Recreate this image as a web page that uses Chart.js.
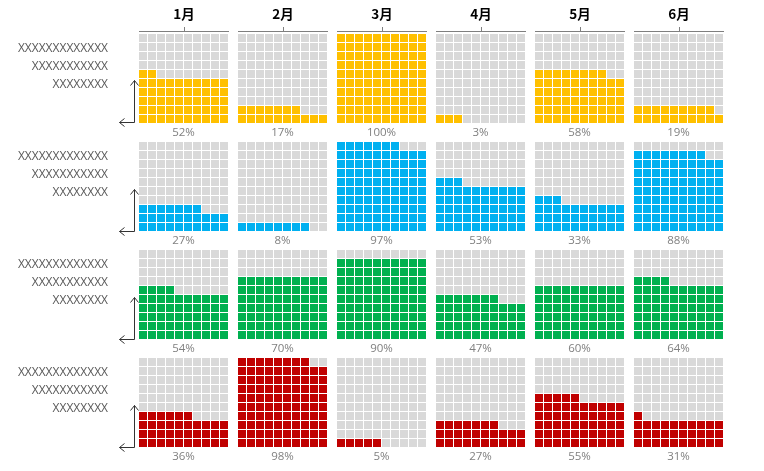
<!DOCTYPE html>
<html>
<head>
<meta charset="utf-8">
<script src="https://cdn.jsdelivr.net/npm/chart.js@4.4.0/dist/chart.umd.min.js"></script>
<style>
  html, body { margin: 0; padding: 0; background: #ffffff; }
  #wrap { width: 764px; height: 471px; }
</style>
</head>
<body>
<div id="wrap"><canvas id="c" width="764" height="471"></canvas></div>
<script>
// ---- data ----
const months = ['1月', '2月', '3月', '4月', '5月', '6月'];
const rowLabels = ['XXXXXXXXXXXXX', 'XXXXXXXXXXX', 'XXXXXXXX'];
const seriesYellow = [52, 17, 100, 3, 58, 19];
const seriesBlue   = [27, 8, 97, 53, 33, 88];
const seriesGreen  = [54, 70, 90, 47, 60, 64];
const seriesRed    = [36, 98, 5, 27, 55, 31];
const seriesList = [seriesYellow, seriesBlue, seriesGreen, seriesRed];
const seriesColors = ['#FFC000', '#00B0F0', '#00B050', '#C00000'];
const emptyColor = '#D9D9D9';

// ---- layout in cell units ----
const GRID = 10;      // 10 x 10 waffle
const COL_STEP = 11;  // grid + 1 cell gap
const ROW_STEP = 12;  // grid + 2 cells gap
const X_MAX = months.length * COL_STEP - 1;
const Y_MAX = seriesList.length * ROW_STEP - 2;

function gridBottom(r) { return Y_MAX - r * ROW_STEP - GRID; }

const emptyPts = [];
const filledSets = seriesList.map((vals, r) => {
  const pts = [];
  vals.forEach((v, m) => {
    for (let k = 0; k < 100; k++) {
      const row = Math.floor(k / GRID), col = k % GRID;
      const p = { x: m * COL_STEP + col + 0.5, y: gridBottom(r) + row + 0.5 };
      if (k < v) pts.push(p); else emptyPts.push(p);
    }
  });
  return pts;
});

const SIDE = 8;
const R = SIDE / (2 * Math.SQRT1_2);

const datasets = [{ data: emptyPts, backgroundColor: emptyColor }]
  .concat(filledSets.map((pts, i) => ({ data: pts, backgroundColor: seriesColors[i] })))
  .map(d => Object.assign(d, {
    pointStyle: 'rect', pointRadius: R, pointHoverRadius: R,
    borderWidth: 0, pointBorderWidth: 0
  }));

const decor = {
  id: 'decor',
  afterDraw(chart) {
    const ctx = chart.ctx;
    const xs = chart.scales.x, ys = chart.scales.y;
    ctx.save();
    // month headers
    months.forEach((m, j) => {
      const x0 = Math.round(xs.getPixelForValue(j * COL_STEP));
      const x1 = Math.round(xs.getPixelForValue(j * COL_STEP + GRID));
      const xc = Math.round(xs.getPixelForValue(j * COL_STEP + GRID / 2));
      const yTop = Math.round(ys.getPixelForValue(Y_MAX));
      ctx.strokeStyle = '#7f7f7f';
      ctx.lineWidth = 1;
      ctx.beginPath();
      ctx.moveTo(x0, yTop - 2.5); ctx.lineTo(x1, yTop - 2.5);
      ctx.moveTo(xc + 0.5, yTop - 2.5); ctx.lineTo(xc + 0.5, yTop - 7);
      ctx.stroke();
      ctx.fillStyle = '#000000';
      ctx.font = 'bold 13.5px "Noto Sans CJK SC", sans-serif';
      ctx.textAlign = 'center';
      ctx.textBaseline = 'middle';
      ctx.fillText(m, xc, 14);
    });
    // per row
    seriesList.forEach((vals, r) => {
      const yb = ys.getPixelForValue(gridBottom(r));
      const yt = ys.getPixelForValue(gridBottom(r) + GRID);
      // percent labels
      vals.forEach((v, j) => {
        const xc = xs.getPixelForValue(j * COL_STEP + GRID / 2);
        ctx.fillStyle = '#808080';
        ctx.font = '11.5px "Open Sans", sans-serif';
        ctx.textAlign = 'center';
        ctx.textBaseline = 'middle';
        ctx.fillText(v + '%', xc, yb + 9);
      });
      // row labels
      ctx.fillStyle = '#595959';
      ctx.font = '12px "Open Sans", sans-serif';
      ctx.textAlign = 'right';
      ctx.textBaseline = 'middle';
      rowLabels.forEach((t, i) => ctx.fillText(t, 108, yt + 15 + i * 18));
      // axis arrows
      const ax = Math.round(xs.getPixelForValue(0)) - 5 + 0.5;
      const ay = Math.round(yb) - 0.5;
      ctx.strokeStyle = '#333333';
      ctx.lineWidth = 1;
      ctx.beginPath();
      ctx.moveTo(ax, ay - 42); ctx.lineTo(ax, ay); ctx.lineTo(ax - 15, ay);
      ctx.moveTo(ax - 4, ay - 37); ctx.lineTo(ax, ay - 42); ctx.lineTo(ax + 4, ay - 37);
      ctx.moveTo(ax - 10, ay - 4); ctx.lineTo(ax - 15, ay); ctx.lineTo(ax - 10, ay + 4);
      ctx.stroke();
    });
    ctx.restore();
  }
};

new Chart(document.getElementById('c'), {
  type: 'scatter',
  data: { datasets },
  options: {
    responsive: false,
    animation: false,
    devicePixelRatio: 1,
    layout: { padding: { left: 138.5, right: 40.5, top: 33.5, bottom: 23.5 } },
    plugins: { legend: { display: false }, tooltip: { enabled: false } },
    events: [],
    scales: {
      x: { type: 'linear', min: 0, max: X_MAX, display: false },
      y: { type: 'linear', min: 0, max: Y_MAX, display: false }
    }
  },
  plugins: [decor]
});
</script>
</body>
</html>
